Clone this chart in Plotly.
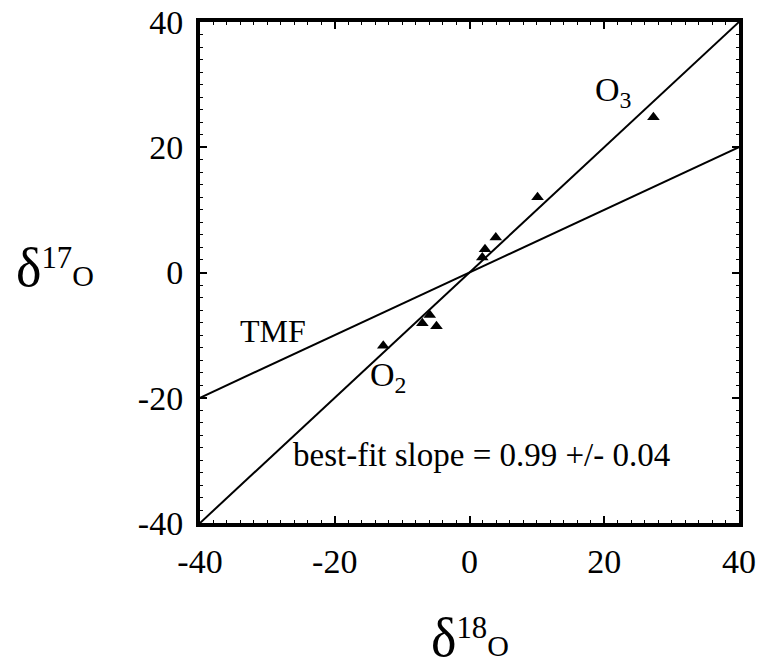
import plotly.graph_objects as go

# data
d18O = [27.3, 10.1, 3.9, 2.3, 1.9, -4.9, -5.9, -7.0, -12.8]
d17O = [24.8, 12.0, 5.6, 3.7, 2.4, -8.6, -6.8, -8.1, -11.7]
fit_x = [-40, 40]
fit_y = [-40, 40]
tmf_x = [-40, 40]
tmf_y = [-20, 20]
tick_vals = [-40, -20, 0, 20, 40]
tick_text = ["-40", "-20", "0", "20", "40"]

FONT = "Liberation Serif, Times New Roman, serif"

fig = go.Figure()
fig.add_trace(go.Scatter(x=fit_x, y=fit_y, mode="lines",
                         line=dict(color="black", width=2), showlegend=False))
fig.add_trace(go.Scatter(x=tmf_x, y=tmf_y, mode="lines",
                         line=dict(color="black", width=2), showlegend=False))
fig.add_trace(go.Scatter(x=d18O, y=d17O, mode="markers",
                         marker=dict(symbol="triangle-up", size=11, color="black"),
                         showlegend=False))

axis_common = dict(
    range=[-40, 40], tickvals=tick_vals, ticktext=tick_text, ticks="inside",
    ticklen=7, tickwidth=1.5, automargin=False,
    tickcolor="black", showline=True, linewidth=4, linecolor="black",
    mirror="allticks", showgrid=False, zeroline=False,
    tickfont=dict(family=FONT, size=34, color="black"),
    minor=dict(dtick=2, ticks="inside", ticklen=3, tickwidth=1, tickcolor="black", showgrid=False),
)

fig.update_layout(
    width=761, height=668,
    margin=dict(l=200, r=22, t=22, b=145),
    paper_bgcolor="white", plot_bgcolor="white",
    xaxis=dict(**axis_common, ticklabelstandoff=5),
    yaxis=dict(**axis_common, ticklabelstandoff=6),
    font=dict(family=FONT, color="black"),
)

anns = [
    dict(text="O<sub>3</sub>", x=593, y=92, size=34),
    dict(text="O<sub>2</sub>", x=368, y=377, size=34),
    dict(text="TMF", x=238, y=331, size=32),
    dict(text="best-fit slope = 0.99 +/- 0.04", x=291, y=455, size=33),
]
for a in anns:
    fig.add_annotation(text=a["text"], xref="paper", yref="paper",
                       x=(a["x"] - 200) / 501 * 501 / 539, y=(523 - a["y"]) / 501,
                       xanchor="left", yanchor="middle", showarrow=False,
                       font=dict(family=FONT, size=a["size"], color="black"))

title_txt = ('<span style="font-size:54px">δ</span><sup>{}</sup>'
             '<span style="font-size:30px">O</span>')
fig.add_annotation(text=title_txt.format("17"),
                   xref="paper", yref="paper", x=(14 - 200) / 539, y=(523 - 268) / 501,
                   xanchor="left", yanchor="middle", showarrow=False,
                   font=dict(family=FONT, size=44, color="black"))
fig.add_annotation(text=title_txt.format("18"),
                   xref="paper", yref="paper", x=(429 - 200) / 539, y=(523 - 638) / 501,
                   xanchor="left", yanchor="middle", showarrow=False,
                   font=dict(family=FONT, size=44, color="black"))

fig.write_html("out.html")
